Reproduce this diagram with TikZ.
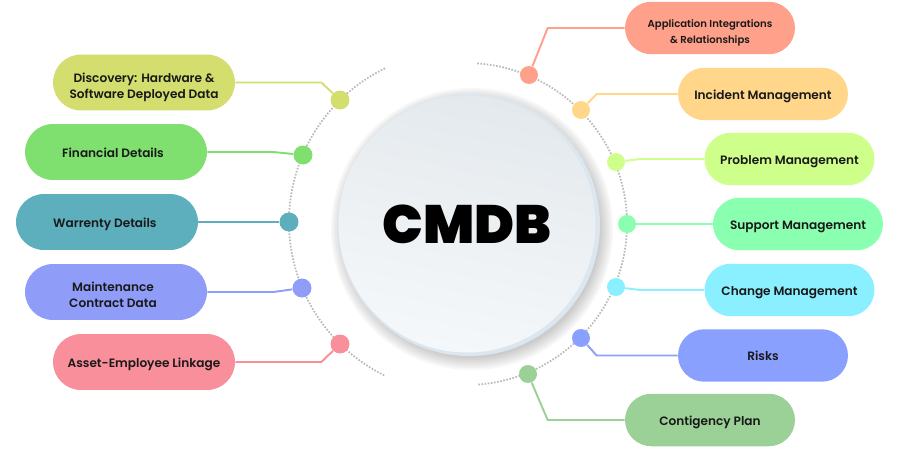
\documentclass[tikz,border=0pt]{standalone}
\usepackage{fontspec}
\setmainfont{Poppins}[UprightFont=* SemiBold,BoldFont=* Black]
\usetikzlibrary{shapes.misc}

\definecolor{discC}{HTML}{D3DE6E}
\definecolor{finC}{HTML}{7FE070}
\definecolor{warC}{HTML}{5EAFBE}
\definecolor{mainC}{HTML}{8F9DF8}
\definecolor{assetC}{HTML}{F98F9B}
\definecolor{appC}{HTML}{FFA08A}
\definecolor{incC}{HTML}{FFD68A}
\definecolor{probC}{HTML}{CEFF8A}
\definecolor{suppC}{HTML}{8AFFB0}
\definecolor{changeC}{HTML}{8AEFFF}
\definecolor{riskC}{HTML}{8AA0FF}
\definecolor{contC}{HTML}{9BD196}
\definecolor{discTop}{HTML}{E4E9ED}
\definecolor{discBot}{HTML}{F5F8FA}
\definecolor{discRim}{HTML}{DCE6EE}

\tikzset{
  pill/.style={rounded rectangle, inner sep=0pt, align=center, font=\fontsize{6.9}{9.2}\selectfont, text=black!90, fill=#1,
    execute at begin node=\rule{0pt}{8pt}, execute at end node=\rule[-2pt]{0pt}{2pt}},
  pillL/.style={pill=#1, minimum width=3.64cm, minimum height=1.12cm},
  pillR/.style={pill=#1, minimum width=3.4cm, minimum height=1.05cm},
  twolines/.style={text height=20.2pt},
  dotL/.style={circle, minimum size=0.38cm, inner sep=0pt, fill=#1},
  dotR/.style={circle, minimum size=0.36cm, inner sep=0pt, fill=#1},
  link/.style={line width=1.1pt, draw=#1},
  ring/.style={black!28, line width=1pt, dash pattern=on 0.9pt off 0.9pt}
}

\begin{document}
\begin{tikzpicture}[x=0.02cm,y=-0.02cm]
  \useasboundingbox (0,0) rectangle (900,450);

  % dotted arcs
  \draw[ring] (460,222) ++(244:171) arc[start angle=244, end angle=116, radius=171];
  \draw[ring] (466,224) ++(-86:161) arc[start angle=-86, end angle=86, radius=161];

  % soft shadow and rim of the disc
  \foreach \r in {141,139,...,129}
    \fill[black, opacity=0.03] (472,229) circle[radius=\r];
  \fill[discRim] (469,225) circle[radius=131];

  \node[circle, minimum size=5.14cm, inner sep=0pt, top color=discTop, bottom color=discBot, shading angle=-12, font=\fontsize{30.7}{32}\selectfont\bfseries, text=black] (cmdb) at (467,224) {CMDB};

  % left side
  \node[pillL=discC, twolines] (disc) at (144,82.5) {Discovery: Hardware \&\\Software Deployed Data};
  \node[pillL=finC] (fin) at (116,152) {Financial Details\hspace*{3.4pt}};
  \node[pillL=warC] (war) at (107,222) {Warrenty Details\hspace*{2.4pt}};
  \node[pillL=mainC, twolines] (main) at (116,292) {Maintenance\hspace*{3.4pt}\\Contract Data\hspace*{3.4pt}};
  \node[pillL=assetC] (asset) at (144,362) {Asset-Employee Linkage};

  \node[dotL=discC] (ddisc) at (340,100) {};
  \node[dotL=finC] (dfin) at (303,155) {};
  \node[dotL=warC] (dwar) at (289,222) {};
  \node[dotL=mainC] (dmain) at (302,288) {};
  \node[dotL=assetC] (dasset) at (340,344) {};

  \draw[link=discC] (disc.east) -- ++(86,0) -- (ddisc);
  \draw[link=finC] (fin.east) -- ++(66,0) -- (dfin);
  \draw[link=warC] (war.east) -- (dwar);
  \draw[link=mainC] (main.east) -- ++(66,0) -- (dmain);
  \draw[link=assetC] (asset.east) -- ++(86,0) -- (dasset);

  % right side
  \node[pillR=appC, twolines, font=\fontsize{5.75}{9.2}\selectfont] (app) at (710,28) {Application Integrations\\\& Relationships};
  \node[pillR=incC] (inc) at (763,94) {Incident Management};
  \node[pillR=probC] (prob) at (789.5,159) {Problem Management};
  \node[pillR=suppC] (supp) at (798,224) {Support Management};
  \node[pillR=changeC] (change) at (789.5,290) {Change Management};
  \node[pillR=riskC] (risk) at (763,355.5) {Risks};
  \node[pillR=contC] (cont) at (710,420) {Contigency Plan};

  \node[dotR=appC] (dapp) at (529,75) {};
  \node[dotR=incC] (dinc) at (581,110) {};
  \node[dotR=probC] (dprob) at (616,162) {};
  \node[dotR=suppC] (dsupp) at (627,224) {};
  \node[dotR=changeC] (dchange) at (616,287) {};
  \node[dotR=riskC] (drisk) at (581,338) {};
  \node[dotR=contC] (dcont) at (528,374) {};

  \draw[link=appC] (app.west) -- ++(-77,0) -- (dapp);
  \draw[link=incC] (inc.west) -- ++(-81,0) -- (dinc);
  \draw[link=probC] (prob.west) -- ++(-64,0) -- (dprob);
  \draw[link=suppC] (supp.west) -- (dsupp);
  \draw[link=changeC] (change.west) -- ++(-64,0) -- (dchange);
  \draw[link=riskC] (risk.west) -- ++(-81,0) -- (drisk);
  \draw[link=contC] (cont.west) -- ++(-77,0) -- (dcont);
\end{tikzpicture}
\end{document}
